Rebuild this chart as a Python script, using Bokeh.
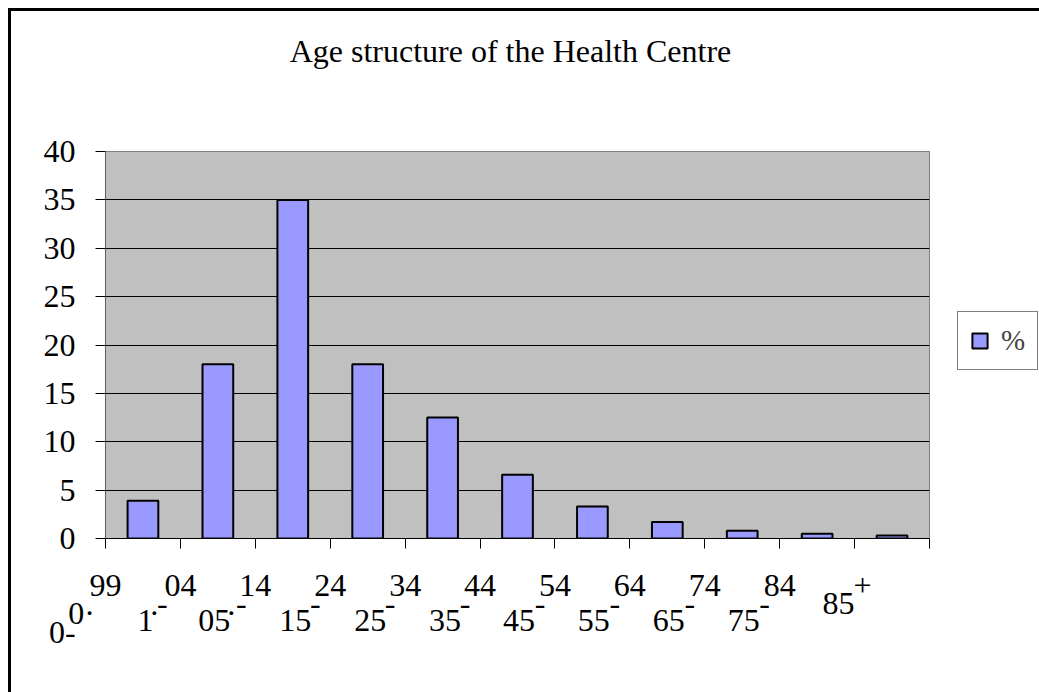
from bokeh.plotting import figure
from bokeh.models import (FixedTicker, LinearAxis, Legend, LegendItem, Range1d,
                          ColumnDataSource)
from bokeh.core.properties import value
from bokeh.embed import file_html
from bokeh.resources import INLINE

# ---- data ----
categories = ["0-0.99", "1-04", "05-14", "15-24", "25-34", "35-44",
              "45-54", "55-64", "65-74", "75-84", "85+"]
values = [3.9, 18.0, 35.0, 18.0, 12.5, 6.6, 3.3, 1.7, 0.8, 0.5, 0.3]
y_ticks = [0, 5, 10, 15, 20, 25, 30, 35, 40]
label_low = ["0", "1", "05", "15", "25", "35", "45", "55", "65", "75", "85"]
label_high = ["99", "04", "14", "24", "34", "44", "54", "64", "74", "84", ""]
title_text = "Age structure of the Health Centre"
series_name = "%"

FONT = "Liberation Serif"
FS = "32px"
FRAME_W, FRAME_H = 824, 387

p = figure(frame_width=FRAME_W, frame_height=FRAME_H, output_backend="svg",
           toolbar_location=None,
           x_range=Range1d(0, len(categories)), y_range=Range1d(0, 40),
           min_border_left=94, min_border_right=110,
           min_border_top=140, min_border_bottom=154)
p.styles = {"margin-left": "8px", "margin-top": "8px",
            "border-left": "3px solid black", "border-top": "3px solid black"}
p.background_fill_color = "#C0C0C0"
p.border_fill_color = "white"
p.outline_line_color = "#808080"
p.outline_line_width = 1

src = ColumnDataSource(dict(x=[i + 0.5 for i in range(len(categories))],
                            top=values, cat=categories))
r = p.vbar(x="x", top="top", bottom=0, width=0.41, source=src,
           fill_color="#9999FF", line_color="black", line_width=2)

# grid
p.xgrid.visible = False
p.ygrid.ticker = FixedTicker(ticks=y_ticks)
p.ygrid.grid_line_color = "black"
p.ygrid.grid_line_width = 1

# y axis
p.yaxis.ticker = FixedTicker(ticks=y_ticks)
p.yaxis.major_label_text_font = FONT
p.yaxis.major_label_text_font_size = FS
p.yaxis.major_label_text_color = "black"
p.yaxis.major_label_standoff = 20
p.yaxis.major_tick_out = 10
p.yaxis.major_tick_in = 0
p.yaxis.minor_tick_line_color = None
p.yaxis.axis_line_color = "#606060"
p.yaxis.major_tick_line_color = "black"

# x axis (category boundaries)
p.xaxis.ticker = FixedTicker(ticks=list(range(len(categories) + 1)))
p.xaxis.major_label_text_color = None
p.xaxis.major_label_text_font_size = "1px"
p.xaxis.major_label_standoff = 0
p.xaxis.major_tick_out = 10
p.xaxis.major_tick_in = 0
p.xaxis.minor_tick_line_color = None
p.xaxis.axis_line_color = "black"
p.xaxis.major_tick_line_color = "black"

# legend, in the right-hand panel, 28px right of the plot area
legend = Legend(items=[LegendItem(label=value(series_name), renderers=[r])],
                location=(28, 168), border_line_color="black",
                border_line_width=1, background_fill_color="white",
                padding=12, glyph_width=19, glyph_height=19,
                label_standoff=12, label_text_font=FONT,
                label_text_font_size="29px", label_height=31, margin=0,
                spacing=0)
p.add_layout(legend, "right")

U = FRAME_W / len(categories)  # pixels per category


def pos(i, dx):
    return round(i + dx / U, 6)


def text_axis(row, standoff):
    return LinearAxis(ticker=FixedTicker(ticks=sorted(row)),
                      major_label_overrides=row,
                      axis_line_color=None, major_tick_line_color=None,
                      minor_tick_line_color=None, major_tick_out=0,
                      major_tick_in=0, minor_tick_out=0, minor_tick_in=0,
                      major_label_standoff=standoff,
                      major_label_text_font=FONT,
                      major_label_text_font_size=FS,
                      major_label_text_color="black")


# chart title, centred above the plot area
p.add_layout(text_axis({pos(len(categories) / 2, -7): title_text}, 83),
             "above")

# ---- category labels, staggered as in the original rendering ----
EM, EN, THIN = "\u2003", "\u2002", "\u2009"
low_dx = [0, -35, -41, -35, -35, -35, -36, -36, -36, -36]

row_a = {float(i): label_high[i] for i in range(10)}
row_a[pos(10, 8)] = "+"

row_b = {pos(10, -16): label_low[10], pos(1, -18): "-", pos(2, -14): "-"}
for i in range(3, 10):
    row_b[pos(i, -15)] = "-"

row_e = {0.0: "0\u00b7" + EM + EN, pos(1, -26): "\u00b7",
         pos(2, -24): "\u00b7"}

row_c = {pos(i, low_dx[i]): label_low[i] for i in range(1, 10)}

row_d = {0.0: label_low[0] + "-" + EM * 2 + EN + THIN}

for row, standoff in [(row_a, 26), (row_b, -6), (row_e, -22),
                      (row_c, -24), (row_d, -20)]:
    p.add_layout(text_axis(row, standoff), "below")

open("out.html", "w").write(file_html(p, INLINE))
